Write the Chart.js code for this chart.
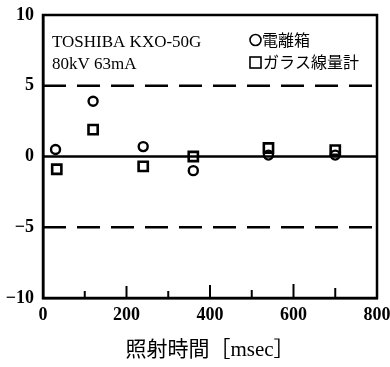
<!DOCTYPE html>
<html><head><meta charset="utf-8">
<script src="https://cdn.jsdelivr.net/npm/chart.js@4"></script>
<style>html,body{margin:0;padding:0;background:#fff}#wrap{width:390px;height:367px}</style>
</head><body><div id="wrap"><canvas id="c" width="390" height="367"></canvas></div>
<script>
const timesIonChamber = [30, 120, 240, 360, 540, 700];
const ionChamber = [0.5, 3.9, 0.7, -1.0, 0.1, 0.1];
const timesGlass = [33, 120, 240, 360, 540, 700];
const glassDosimeter = [-0.9, 1.9, -0.7, 0.0, 0.6, 0.45];
const xTicks = [0, 200, 400, 600, 800];
const yTicks = [-10, -5, 0, 5, 10];
const minorXTicks = [100, 200, 300, 400, 500, 600, 700];
const minorXTickLen = [7, 12, 7, 13, 8, 14, 10];
const limitLines = [5, -5];
const annotationLines = ["TOSHIBA KXO-50G", "80kV 63mA"];
const legendLabels = ["電離箱", "ガラス線量計"];

const toPts = (xs, ys) => xs.map((x, i) => ({x, y: ys[i]}));

const overlay = {
  id: 'overlay',
  afterDatasetsDraw(chart) {
    const {ctx, chartArea: a, scales: {x, y}} = chart;
    ctx.save();
    ctx.strokeStyle = '#000'; ctx.lineWidth = 2.5;
    ctx.strokeRect(a.left, a.top, a.right - a.left, a.bottom - a.top);
    ctx.lineWidth = 2;
    minorXTicks.forEach((v, i) => {
      const px = x.getPixelForValue(v);
      ctx.beginPath(); ctx.moveTo(px, a.bottom); ctx.lineTo(px, a.bottom - minorXTickLen[i]); ctx.stroke();
    });
    ctx.fillStyle = '#000';
    ctx.font = '17px "Liberation Serif"';
    ctx.textBaseline = 'middle'; ctx.textAlign = 'left';
    ctx.fillText(annotationLines[0], a.left + 9, 43);
    ctx.fillText(annotationLines[1], a.left + 9, 65);
    ctx.lineWidth = 1.6;
    ctx.beginPath(); ctx.arc(255.5, 40, 5.5, 0, Math.PI * 2); ctx.stroke();
    ctx.strokeRect(250, 57, 11, 11);
    ctx.font = '16px "Noto Sans CJK JP"';
    ctx.fillText(legendLabels[0], 262, 40);
    ctx.fillText(legendLabels[1], 263, 62);
    ctx.restore();
  }
};

new Chart(document.getElementById('c'), {
  type: 'scatter',
  data: {
    datasets: [
      {data: [{x: 0, y: limitLines[0]}, {x: 800, y: limitLines[0]}], type: 'line', showLine: true,
       borderColor: '#000', borderWidth: 2.5, borderDash: [23, 11], pointRadius: 0, order: 3},
      {data: [{x: 0, y: limitLines[1]}, {x: 800, y: limitLines[1]}], type: 'line', showLine: true,
       borderColor: '#000', borderWidth: 2.5, borderDash: [23, 11], pointRadius: 0, order: 3},
      {data: [{x: 0, y: 0}, {x: 800, y: 0}], type: 'line', showLine: true,
       borderColor: '#000', borderWidth: 2.5, pointRadius: 0, order: 3},
      {label: legendLabels[0], data: toPts(timesIonChamber, ionChamber), pointStyle: 'circle',
       pointRadius: 4.5, borderWidth: 2.4, borderColor: '#000', backgroundColor: 'rgba(255,255,255,0)', order: 1},
      {label: legendLabels[1], data: toPts(timesGlass, glassDosimeter), pointStyle: 'rect',
       pointRadius: 6.5, borderWidth: 2.6, borderColor: '#000', backgroundColor: 'rgba(255,255,255,0)', order: 2}
    ]
  },
  options: {
    responsive: false, animation: false, devicePixelRatio: 1,
    layout: {padding: {top: 15, right: 13, left: 0, bottom: 0}},
    plugins: {legend: {display: false}, tooltip: {enabled: false}},
    scales: {
      x: {
        type: 'linear', min: 0, max: 800,
        afterBuildTicks: s => { s.ticks = xTicks.map(v => ({value: v})); },
        afterFit: s => { s.height = 69; s.paddingLeft = 0; s.paddingRight = 0; },
        grid: {display: false, drawTicks: false},
        border: {display: true, color: '#000', width: 2.5},
        ticks: {color: '#000', padding: 7, maxRotation: 0,
                font: {family: '"Liberation Serif"', size: 18, weight: 'bold'}},
        title: {display: true, text: '照射時間［msec］', color: '#000', padding: {top: 6},
                font: {family: '"Liberation Serif", "Noto Sans CJK JP"', size: 21}}
      },
      y: {
        type: 'linear', min: -10, max: 10,
        afterBuildTicks: s => { s.ticks = yTicks.map(v => ({value: v})); },
        afterFit: s => { s.width = 43; s.paddingTop = 0; s.paddingBottom = 0; },
        grid: {display: false, drawTicks: false},
        border: {display: true, color: '#000', width: 2.5},
        ticks: {color: '#000', padding: 9,
                callback: v => (v < 0 ? '\u2212' + Math.abs(v) : String(v)),
                font: {family: '"Liberation Serif"', size: 18, weight: 'bold'}}
      }
    }
  },
  plugins: [overlay]
});
</script>
</body></html>
